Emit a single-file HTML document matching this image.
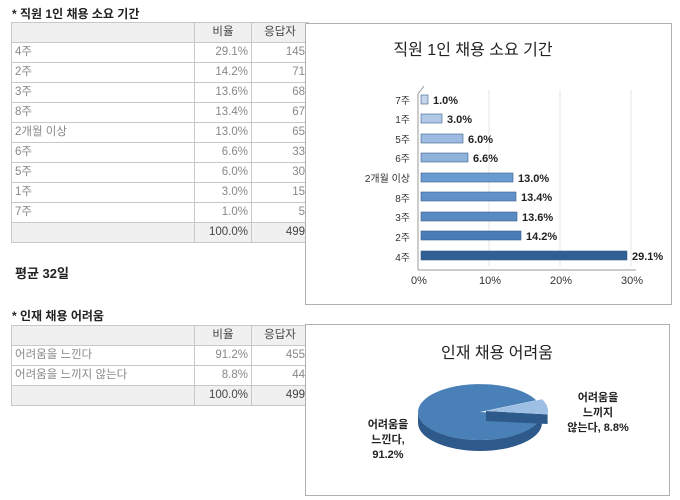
<!DOCTYPE html>
<html><head><meta charset="utf-8"><style>
body{margin:0;width:680px;height:500px;background:#fff;position:relative;font-family:"Liberation Sans","Noto Sans CJK KR",sans-serif;overflow:hidden}
.t{position:absolute;font-size:12px;font-weight:bold;color:#222}
table{position:absolute;border-collapse:collapse;font-size:11.5px;color:#888}
td{border:1px solid #c8c8c8;height:19px;padding:0 3px;line-height:19px}
tr.h td,tr.f td{background:#f0f0f0;color:#444}
td.n{text-align:right}
.box{position:absolute;border:1px solid #b0b0b0;background:#fff}
</style></head><body>
<div class="t" style="left:12px;top:5px">* 직원 1인 채용 소요 기간</div>
<table style="left:11px;top:22px">
<tr class="h"><td style="width:176px"></td><td class="n" style="width:50px;text-align:center">비율</td><td style="width:50px;text-align:center">응답자</td></tr>
<tr><td>4주</td><td class="n">29.1%</td><td class="n">145</td></tr>
<tr><td>2주</td><td class="n">14.2%</td><td class="n">71</td></tr>
<tr><td>3주</td><td class="n">13.6%</td><td class="n">68</td></tr>
<tr><td>8주</td><td class="n">13.4%</td><td class="n">67</td></tr>
<tr><td>2개월 이상</td><td class="n">13.0%</td><td class="n">65</td></tr>
<tr><td>6주</td><td class="n">6.6%</td><td class="n">33</td></tr>
<tr><td>5주</td><td class="n">6.0%</td><td class="n">30</td></tr>
<tr><td>1주</td><td class="n">3.0%</td><td class="n">15</td></tr>
<tr><td>7주</td><td class="n">1.0%</td><td class="n">5</td></tr>
<tr class="f"><td></td><td class="n">100.0%</td><td class="n">499</td></tr>
</table>
<div class="t" style="left:15px;top:263px;font-size:13px">평균 32일</div>
<div class="t" style="left:12px;top:307px">* 인재 채용 어려움</div>
<table style="left:11px;top:325px">
<tr class="h"><td style="width:176px"></td><td style="width:50px;text-align:center">비율</td><td style="width:50px;text-align:center">응답자</td></tr>
<tr><td>어려움을 느낀다</td><td class="n">91.2%</td><td class="n">455</td></tr>
<tr><td>어려움을 느끼지 않는다</td><td class="n">8.8%</td><td class="n">44</td></tr>
<tr class="f"><td></td><td class="n">100.0%</td><td class="n">499</td></tr>
</table>

<div class="box" style="left:305px;top:23px;width:365px;height:280px"></div>
<svg style="position:absolute;left:0;top:0" width="680" height="500" font-family="Liberation Sans,Noto Sans CJK KR,sans-serif">
<text x="473" y="55" font-size="16" text-anchor="middle" fill="#222">직원 1인 채용 소요 기간</text>
<g stroke="#e4e4e4"><line x1="489" y1="90" x2="489" y2="266"/><line x1="560" y1="90" x2="560" y2="266"/><line x1="631" y1="90" x2="631" y2="266"/></g>
<path d="M418,270 L418,94 L424,86" stroke="#999" fill="none"/>
<line x1="418" y1="270" x2="636" y2="270" stroke="#999"/>
<g font-size="10" fill="#333" text-anchor="end">
<text x="410" y="104">7주</text><text x="410" y="123">1주</text><text x="410" y="143">5주</text><text x="410" y="162">6주</text><text x="410" y="182">2개월 이상</text><text x="410" y="202">8주</text><text x="410" y="221">3주</text><text x="410" y="241">2주</text><text x="410" y="261">4주</text>
</g>
<g font-size="11" fill="#333" text-anchor="middle"><text x="419" y="284">0%</text><text x="490" y="284">10%</text><text x="561" y="284">20%</text><text x="632" y="284">30%</text></g>
<g stroke="#3a5f8a" stroke-width="0.6">
<rect x="421" y="95" width="7" height="9" fill="#c5d5ea"/>
<rect x="421" y="114" width="21" height="9" fill="#b0c8e6"/>
<rect x="421" y="134" width="42" height="9" fill="#9dbbe0"/>
<rect x="421" y="153" width="47" height="9" fill="#8fb2da"/>
<rect x="421" y="173" width="92" height="9" fill="#6a9bd0"/>
<rect x="421" y="192" width="95" height="9" fill="#5f91c8"/>
<rect x="421" y="212" width="96" height="9" fill="#5a8ac2"/>
<rect x="421" y="231" width="100" height="9" fill="#4a7cb8"/>
<rect x="421" y="251" width="206" height="9" fill="#2f5f94"/>
</g>
<g font-size="11" font-weight="bold" fill="#222">
<text x="433" y="104">1.0%</text><text x="447" y="123">3.0%</text><text x="468" y="143">6.0%</text><text x="473" y="162">6.6%</text><text x="518" y="182">13.0%</text><text x="521" y="201">13.4%</text><text x="522" y="221">13.6%</text><text x="526" y="240">14.2%</text><text x="632" y="260">29.1%</text>
</g>
</svg>

<div class="box" style="left:305px;top:324px;width:363px;height:170px"></div>
<svg style="position:absolute;left:0;top:0" width="680" height="500" font-family="Liberation Sans,Noto Sans CJK KR,sans-serif">
<text x="497" y="358" font-size="16" text-anchor="middle" fill="#222">인재 채용 어려움</text>
<path d="M418,412 A62,28 0 0,0 542,412 L542,423 A62,28 0 0,1 418,423 Z" fill="#2d5a8a"/>
<path d="M480,412 L541.6,415.4 A62,28 0 1,1 536.2,400.2 Z" fill="#4a80b8"/>
<path d="M486,411 L547.6,414.4 L547.6,424 L486,421 Z" fill="#2d5a8a"/>
<path d="M486,411 L542.2,399.2 A62,28 0 0,1 547.6,414.4 Z" fill="#9dbfe4"/>
<g font-size="11" font-weight="bold" fill="#222" text-anchor="middle">
<text x="388" y="428">어려움을</text><text x="388" y="443">느낀다,</text><text x="388" y="458">91.2%</text>
<text x="598" y="401">어려움을</text><text x="598" y="416">느끼지</text><text x="598" y="431">않는다, 8.8%</text>
</g>
</svg>
</body></html>
